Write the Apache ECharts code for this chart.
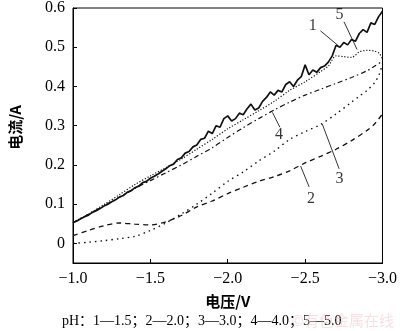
<!DOCTYPE html>
<html><head><meta charset="utf-8">
<script src="https://cdn.jsdelivr.net/npm/echarts@6/dist/echarts.min.js"></script>
<style>html,body{margin:0;padding:0;background:#fff}#c{width:400px;height:331px}</style>
</head><body><div id="c"></div>
<script>
// ---- data ----
const volt1 = [-1.000,-1.025,-1.050,-1.075,-1.100,-1.125,-1.150,-1.175,-1.200,-1.225,-1.250,-1.275,-1.300,-1.325,-1.350,-1.375,-1.400,-1.425,-1.450,-1.475,-1.500,-1.525,-1.550,-1.575,-1.600,-1.625,-1.650,-1.675,-1.700,-1.725,-1.750,-1.775,-1.800,-1.825,-1.850,-1.875,-1.900,-1.925,-1.950,-1.975,-2.000,-2.025,-2.050,-2.075,-2.100,-2.125,-2.150,-2.175,-2.200,-2.225,-2.250,-2.275,-2.300,-2.325,-2.350,-2.375,-2.400,-2.425,-2.450,-2.475,-2.500,-2.525,-2.550,-2.575,-2.600,-2.625,-2.650,-2.675,-2.700,-2.725,-2.750,-2.775,-2.800,-2.825,-2.850,-2.875,-2.900,-2.925,-2.950,-2.975,-3.000];
const cur1 = [0.053,0.057,0.063,0.068,0.072,0.079,0.083,0.089,0.095,0.100,0.106,0.111,0.118,0.122,0.130,0.134,0.142,0.146,0.155,0.158,0.166,0.171,0.177,0.184,0.190,0.198,0.202,0.214,0.218,0.230,0.234,0.246,0.251,0.265,0.268,0.286,0.280,0.300,0.296,0.318,0.325,0.312,0.318,0.332,0.328,0.343,0.355,0.340,0.345,0.362,0.372,0.386,0.378,0.390,0.386,0.405,0.412,0.400,0.416,0.425,0.455,0.430,0.442,0.436,0.448,0.452,0.462,0.478,0.505,0.500,0.512,0.506,0.520,0.515,0.535,0.545,0.538,0.562,0.558,0.578,0.592];

const volt2 = [-1.0,-1.1,-1.2,-1.3,-1.4,-1.5,-1.6,-1.7,-1.8,-1.9,-2.0,-2.1,-2.2,-2.3,-2.4,-2.5,-2.6,-2.7,-2.8,-2.9,-2.95,-3.0];
const cur2 = [0.020,0.033,0.045,0.052,0.049,0.047,0.055,0.071,0.093,0.108,0.127,0.143,0.158,0.170,0.185,0.205,0.222,0.240,0.262,0.288,0.305,0.330];

const volt3 = [-1.0,-1.1,-1.2,-1.3,-1.4,-1.5,-1.6,-1.7,-1.8,-1.9,-2.0,-2.1,-2.2,-2.3,-2.4,-2.5,-2.6,-2.7,-2.8,-2.85,-2.9,-2.95,-2.98,-3.0];
const cur3 = [0.000,0.003,0.007,0.012,0.018,0.033,0.052,0.075,0.100,0.128,0.158,0.182,0.210,0.235,0.265,0.285,0.303,0.330,0.360,0.375,0.390,0.410,0.432,0.458];

const volt4 = [-1.0,-1.1,-1.2,-1.3,-1.4,-1.5,-1.6,-1.7,-1.8,-1.9,-2.0,-2.1,-2.2,-2.3,-2.4,-2.5,-2.6,-2.7,-2.8,-2.9,-2.95,-3.0];
const cur4 = [0.053,0.074,0.096,0.118,0.140,0.160,0.180,0.200,0.222,0.244,0.270,0.295,0.318,0.340,0.360,0.378,0.393,0.408,0.423,0.440,0.452,0.465];

const volt5 = [-1.0,-1.1,-1.2,-1.3,-1.4,-1.5,-1.6,-1.7,-1.8,-1.9,-2.0,-2.1,-2.2,-2.3,-2.4,-2.5,-2.6,-2.65,-2.7,-2.75,-2.8,-2.85,-2.9,-2.95,-2.98,-3.0];
const cur5 = [0.053,0.075,0.099,0.124,0.150,0.172,0.193,0.215,0.240,0.265,0.292,0.315,0.338,0.362,0.390,0.412,0.438,0.452,0.478,0.476,0.474,0.488,0.492,0.490,0.484,0.470];

const yTickValues = [0,0.1,0.2,0.3,0.4,0.5,0.6];
const curveLabels = ['1','2','3','4','5'];
const labelPos = [[-2.550,0.554],[-2.538,0.114],[-2.722,0.165],[-2.331,0.278],[-2.722,0.583]];
const leaderFrom = [[-2.599,0.542],[-2.471,0.197],[-2.611,0.304],[-2.289,0.334],[-2.751,0.565]];
const leaderTo = [[-2.714,0.504],[-2.526,0.144],[-2.720,0.190],[-2.337,0.296],[-2.836,0.494]];
const caption = 'pH：1—1.5；2—2.0；3—3.0；4—4.0；5—5.0';
// ---------------

const FONT = "Liberation Serif";
const pair = (v, c) => v.map((x, i) => [x, c[i]]);
const fmtX = v => (v < 0 ? '\u2212' : '') + Math.abs(v).toFixed(1);
const fmtY = v => v === 0 ? '0' : v.toFixed(1);

const chart = echarts.init(document.getElementById('c'), null, {renderer: 'canvas'});
const lineSeries = (data, type, width, smooth) => ({
  type: 'line', data, showSymbol: false, symbol: 'none', smooth: smooth,
  lineStyle: {color: '#111', width: width, type: type}, z: 3
});
const tickText = {color: '#000', fontFamily: FONT, fontSize: 16, fontWeight: 'normal'};

chart.setOption({
  animation: false,
  backgroundColor: '#fff',
  textStyle: {fontFamily: FONT},
  grid: {left: 60, right: 11, top: 6, bottom: 68, show: true, borderColor: '#000', borderWidth: 1},
  xAxis: {
    type: 'value', min: -3, max: -1, interval: 0.5, inverse: true,
    axisLine: {onZero: false, lineStyle: {color: '#000', width: 1}},
    axisTick: {inside: true, length: 4, lineStyle: {color: '#000'}},
    axisLabel: Object.assign({margin: 8, formatter: fmtX}, tickText),
    splitLine: {show: false},
    name: '电压/V', nameLocation: 'middle', nameGap: 31,
    nameTextStyle: {color: '#000', fontFamily: 'Noto Sans CJK SC', fontSize: 15, fontWeight: 'bold'}
  },
  yAxis: {
    type: 'value', min: -0.05, max: 0.6,
    axisLine: {show: true, onZero: false, lineStyle: {color: '#000', width: 1}},
    axisTick: {show: true, inside: true, length: 4, customValues: yTickValues, lineStyle: {color: '#000'}},
    axisLabel: Object.assign({margin: 8, customValues: yTickValues, formatter: fmtY}, tickText),
    splitLine: {show: false},
    name: '电流/A', nameLocation: 'middle', nameGap: 50, nameRotate: 90,
    nameTextStyle: {color: '#000', fontFamily: 'Noto Sans CJK SC', fontSize: 15, fontWeight: 'bold', padding: [0, 0, 0, 16]}
  },
  series: [
    lineSeries(pair(volt1, cur1), 'solid', 1.7, false),
    lineSeries(pair(volt2, cur2), [5, 4], 1.3, 0.3),
    lineSeries(pair(volt3, cur3), [1.5, 4], 1.4, 0.3),
    lineSeries(pair(volt4, cur4), [5, 3, 1.5, 3], 1.2, 0.3),
    lineSeries(pair(volt5, cur5), [1.2, 1.8], 1.2, 0.3),
    {
      type: 'scatter', symbolSize: 1, itemStyle: {color: 'rgba(0,0,0,0)'}, z: 5,
      data: curveLabels.map((t, i) => ({name: t, value: labelPos[i]})),
      label: {show: true, position: 'inside', formatter: '{b}', color: '#000', fontFamily: FONT, fontSize: 16},
      markLine: {
        silent: true, symbol: 'none', animation: false,
        label: {show: false},
        lineStyle: {color: '#000', width: 0.8, type: 'solid'},
        data: curveLabels.map((t, i) => [{coord: leaderFrom[i]}, {coord: leaderTo[i]}])
      }
    }
  ],
  graphic: [
    {type: 'text', left: 62, top: 314, style: {text: caption, fill: '#000', font: "14px 'Liberation Serif', 'Noto Sans CJK SC'"}},
    {type: 'text', right: 6, top: 313, z: 10, style: {text: '©有色金属在线', fill: 'rgba(240,185,195,0.45)', font: "15px 'Noto Sans CJK SC'"}}
  ]
});
</script></body></html>
